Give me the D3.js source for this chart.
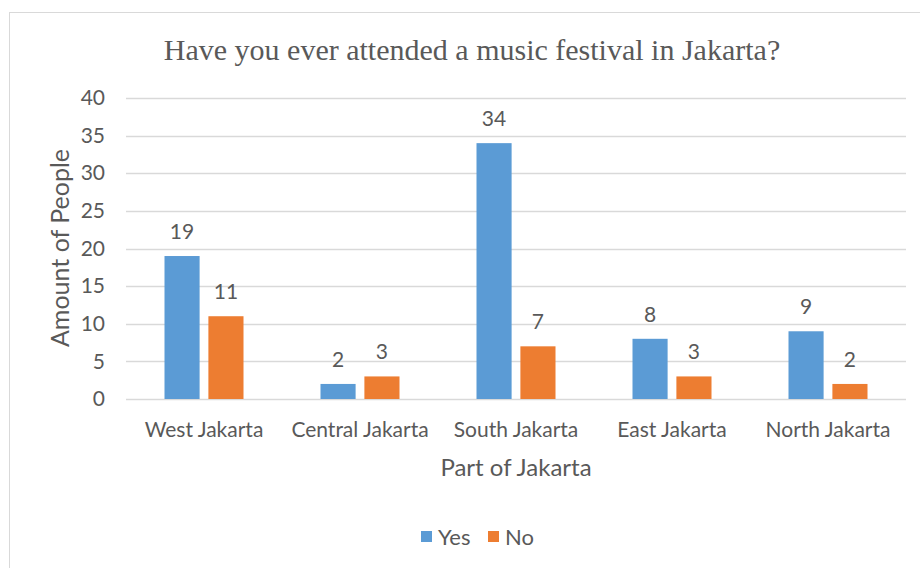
<!DOCTYPE html>
<html><head><meta charset="utf-8">
<script src="https://cdn.jsdelivr.net/npm/d3@7"></script>
<style>body{margin:0;background:#fff}svg{display:block}</style>
</head><body>
<script>
const categories = ["West Jakarta","Central Jakarta","South Jakarta","East Jakarta","North Jakarta"];
const seriesNames = ["Yes","No"];
const yesValues = [19,2,34,8,9];
const noValues = [11,3,7,3,2];
const yTicks = [0,5,10,15,20,25,30,35,40];
const colors = ["#5B9BD5","#ED7D31"];
const textColor = "#595959";
const font = "Lato, 'Open Sans', sans-serif";

(function(){
const W = 920, H = 568;
const svg = d3.select("body").append("svg").attr("width", W).attr("height", H);
svg.append("rect").attr("x", 9.5).attr("y", 12.5).attr("width", 930).attr("height", 600)
  .attr("fill", "#fff").attr("stroke", "#d9d9d9").attr("stroke-width", 1);

const pL = 126, pR = 906, pT = 98, pB = 399;
const y = d3.scaleLinear().domain([0,40]).range([pB, pT]);
const x0 = d3.scaleBand().domain(categories).range([pL, pR]).padding(0);
const x1 = d3.scaleBand().domain(seriesNames).range([38.5, 117.5]).paddingInner(0.2);

// grid
svg.append("g").selectAll("line").data(yTicks).join("line")
  .attr("x1", pL).attr("x2", pR)
  .attr("y1", d => Math.round(y(d)) + 0.5).attr("y2", d => Math.round(y(d)) + 0.5)
  .attr("stroke", "#d9d9d9").attr("stroke-width", 1.5);

// y axis labels
const yAxis = d3.axisLeft(y).tickValues(yTicks).tickSize(0).tickPadding(0);
const ya = svg.append("g").attr("transform", `translate(${pL - 21},0)`).call(yAxis);
ya.select(".domain").remove();
ya.selectAll("text").attr("fill", textColor).style("font-family", font).style("font-size", "21px");

// x axis
const xAxis = d3.axisBottom(x0).tickSize(0).tickPadding(0);
const xa = svg.append("g").attr("transform", `translate(0,${pB + 23})`).call(xAxis);
xa.select(".domain").remove();
xa.selectAll("text").attr("fill", textColor).style("font-family", font).style("font-size", "21px");

const data = categories.map((c, i) => ({cat: c, vals: [
  {s: "Yes", v: yesValues[i]}, {s: "No", v: noValues[i]}]}));

const g = svg.append("g").selectAll("g").data(data).join("g")
  .attr("transform", d => `translate(${x0(d.cat)},0)`);
g.selectAll("rect").data(d => d.vals).join("rect")
  .attr("x", d => x1(d.s)).attr("width", x1.bandwidth())
  .attr("y", d => y(d.v)).attr("height", d => y(0) - y(d.v))
  .attr("fill", (d, i) => colors[i]);
g.selectAll("text").data(d => d.vals).join("text")
  .attr("x", d => x1(d.s) + x1.bandwidth() / 2).attr("y", d => y(d.v) - 17)
  .attr("text-anchor", "middle").attr("fill", textColor)
  .style("font-family", font).style("font-size", "21px").text(d => d.v);

// title
svg.append("text").attr("x", 472).attr("y", 60).attr("text-anchor", "middle")
  .attr("fill", textColor).style("font-family", "'Liberation Serif', 'DejaVu Serif', serif")
  .style("font-size", "30px").text("Have you ever attended a music festival in Jakarta?");

// axis titles
svg.append("text").attr("transform", "translate(69,248) rotate(-90)").attr("text-anchor", "middle")
  .attr("fill", textColor).style("font-family", font).style("font-size", "25px").text("Amount of People");
svg.append("text").attr("x", 516).attr("y", 476).attr("text-anchor", "middle")
  .attr("fill", textColor).style("font-family", font).style("font-size", "24px").text("Part of Jakarta");

// legend
const leg = svg.append("g");
const legX = [421, 488];
seriesNames.forEach((s, i) => {
  leg.append("rect").attr("x", legX[i]).attr("y", 531).attr("width", 11).attr("height", 11).attr("fill", colors[i]);
  leg.append("text").attr("x", legX[i] + 17).attr("y", 545).attr("fill", textColor)
    .style("font-family", font).style("font-size", "22px").text(s);
});
})();
</script>
</body></html>
